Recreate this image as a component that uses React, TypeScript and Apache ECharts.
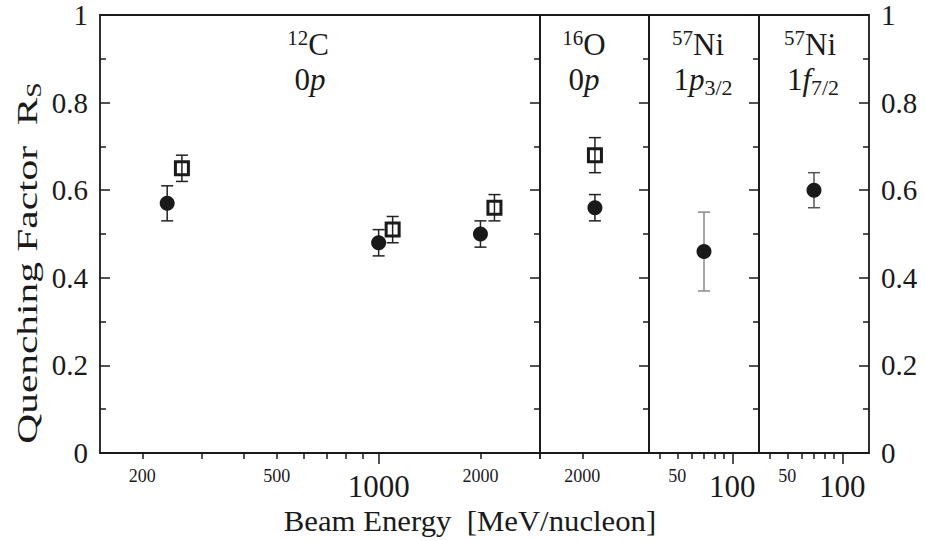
import React, { useEffect, useRef } from 'react';
import * as echarts from 'echarts';

// ---------- data ----------
// Panel 1: 12C 0p
const cEnergyFilled = [237, 1000, 2000];
const cRsFilled = [0.57, 0.48, 0.5];
const cLoFilled = [0.53, 0.45, 0.47];
const cHiFilled = [0.61, 0.51, 0.53];

const cEnergyOpen = [262, 1100, 2200];
const cRsOpen = [0.65, 0.51, 0.56];
const cLoOpen = [0.62, 0.48, 0.53];
const cHiOpen = [0.68, 0.54, 0.59];

// Panel 2: 16O 0p
const oEnergyFilled = [2180];
const oRsFilled = [0.56];
const oLoFilled = [0.53];
const oHiFilled = [0.59];

const oEnergyOpen = [2180];
const oRsOpen = [0.68];
const oLoOpen = [0.64];
const oHiOpen = [0.72];

// Panel 3: 57Ni 1p3/2
const niPEnergy = [70];
const niPRs = [0.46];
const niPLo = [0.37];
const niPHi = [0.55];

// Panel 4: 57Ni 1f7/2
const niFEnergy = [70];
const niFRs = [0.6];
const niFLo = [0.56];
const niFHi = [0.64];

// axis ticks / labels
const p1Range = [150, 3000];
const p1MinorTicks = [200, 300, 400, 500, 600, 700, 800, 900, 2000, 3000];
const p1MajorTicks = [1000];
const p1Labels = [200, 500, 1000, 2000];
const p2Range = [1500, 3150];
const p2MinorTicks = [1500, 2000];
const p2Labels = [2000];
const niRange = [35, 140];
const niMinorTicks = [40, 50, 60, 70, 80, 90];
const niMajorTicks = [100];
const niLabels = [50, 100];
const bigLabels = [1000, 100];

const yTickLabels = [0, 0.2, 0.4, 0.6, 0.8, 1];

const serif = 'Liberation Serif';
const ink = '#1a1a1a';

function pts(xs: number[], ys: number[]) {
  return xs.map((x, i) => [x, ys[i]]);
}
function errs(xs: number[], lo: number[], hi: number[]) {
  return xs.map((x, i) => [x, lo[i], hi[i]]);
}

export default function App() {
  const ref = useRef<HTMLDivElement>(null);

  useEffect(() => {
    if (!ref.current) return;
    const chart = echarts.init(ref.current, undefined, { renderer: 'svg' });

    const grids = [
      { left: 100, width: 440 },
      { left: 540, width: 109 },
      { left: 649, width: 110 },
      { left: 759, width: 110 },
    ].map((g) => ({
      ...g,
      top: 15,
      height: 438,
      show: true,
      borderColor: ink,
      borderWidth: 1.8,
      backgroundColor: 'transparent',
      containLabel: false,
      outerBoundsMode: 'none',
    }));

    const labelFmt = (v: number) => {
      const r = Math.round(v);
      return bigLabels.includes(r) ? `{b|${r}}` : `{s|${r}}`;
    };
    const labelRich = {
      s: { fontSize: 18, fontFamily: serif, color: ink },
      b: { fontSize: 31, fontFamily: serif, color: ink, padding: [4, 0, 0, 0] },
    };

    const mkX = (grid: number, range: number[], ticks: number[], labels: number[] | null, len: number) => ({
      type: 'log',
      logBase: 10,
      gridIndex: grid,
      position: 'bottom',
      min: range[0],
      max: range[1],
      axisLine: { show: false },
      splitLine: { show: false },
      axisTick: {
        show: true,
        inside: false,
        length: len,
        customValues: ticks,
        lineStyle: { color: ink, width: 1.5 },
      },
      axisLabel: labels
        ? {
            show: true,
            margin: 14,
            customValues: labels,
            formatter: labelFmt,
            rich: labelRich,
            fontFamily: serif,
            color: ink,
          }
        : { show: false },
    });

    const xAxis = [
      mkX(0, p1Range, p1MinorTicks, p1Labels, 6), // 0
      mkX(0, p1Range, p1MajorTicks, null, 11), // 1
      mkX(1, p2Range, p2MinorTicks, p2Labels, 6), // 2
      mkX(2, niRange, niMinorTicks, niLabels, 6), // 3
      mkX(2, niRange, niMajorTicks, null, 11), // 4
      mkX(3, niRange, niMinorTicks, niLabels, 6), // 5
      mkX(3, niRange, niMajorTicks, null, 11), // 6
    ];

    const mkY = (grid: number, pos: 'left' | 'right', showLabel: boolean) => ({
      type: 'value',
      gridIndex: grid,
      position: pos,
      min: 0,
      max: 1,
      interval: 0.2,
      axisLine: { show: false },
      splitLine: { show: false },
      axisTick: { show: true, inside: true, length: 10, lineStyle: { color: ink, width: 1.5 } },
      minorTick: { show: true, splitNumber: 2, length: 6, lineStyle: { color: ink, width: 1.5 } },
      axisLabel: {
        show: showLabel,
        margin: 12,
        fontSize: 29,
        fontFamily: serif,
        color: ink,
        formatter: (v: number) => {
          const hit = yTickLabels.find((t) => Math.abs(t - v) < 1e-6);
          return hit === undefined ? '' : String(hit);
        },
      },
    });

    const yAxis = [
      mkY(0, 'left', true), // 0
      mkY(0, 'right', false), // 1
      mkY(1, 'right', false), // 2
      mkY(2, 'right', false), // 3
      mkY(3, 'right', true), // 4
    ];

    const errSeries = (xi: number, yi: number, data: number[][], color: string) => ({
      type: 'custom',
      xAxisIndex: xi,
      yAxisIndex: yi,
      z: 1,
      encode: { x: 0, y: [1, 2] },
      data,
      renderItem: (_p: any, api: any) => {
        const x = api.value(0);
        const lo = api.coord([x, api.value(1)]);
        const hi = api.coord([x, api.value(2)]);
        const cap = 6;
        const style = { stroke: color, lineWidth: 1.5 };
        return {
          type: 'group',
          children: [
            { type: 'line', shape: { x1: lo[0], y1: lo[1], x2: hi[0], y2: hi[1] }, style },
            { type: 'line', shape: { x1: lo[0] - cap, y1: lo[1], x2: lo[0] + cap, y2: lo[1] }, style },
            { type: 'line', shape: { x1: hi[0] - cap, y1: hi[1], x2: hi[0] + cap, y2: hi[1] }, style },
          ],
        };
      },
    });

    const filled = (xi: number, yi: number, data: number[][]) => ({
      type: 'scatter',
      xAxisIndex: xi,
      yAxisIndex: yi,
      z: 3,
      symbol: 'circle',
      symbolSize: 15,
      itemStyle: { color: ink, opacity: 1 },
      data,
    });
    const open = (xi: number, yi: number, data: number[][]) => ({
      type: 'scatter',
      xAxisIndex: xi,
      yAxisIndex: yi,
      z: 2,
      symbol: 'rect',
      symbolSize: 13,
      itemStyle: { color: 'rgba(255,255,255,0)', borderColor: ink, borderWidth: 3, opacity: 1 },
      data,
    });

    const series = [
      errSeries(0, 0, errs(cEnergyFilled, cLoFilled, cHiFilled), '#222'),
      errSeries(0, 0, errs(cEnergyOpen, cLoOpen, cHiOpen), '#222'),
      open(0, 0, pts(cEnergyOpen, cRsOpen)),
      filled(0, 0, pts(cEnergyFilled, cRsFilled)),

      errSeries(2, 2, errs(oEnergyFilled, oLoFilled, oHiFilled), '#222'),
      errSeries(2, 2, errs(oEnergyOpen, oLoOpen, oHiOpen), '#222'),
      open(2, 2, pts(oEnergyOpen, oRsOpen)),
      filled(2, 2, pts(oEnergyFilled, oRsFilled)),

      errSeries(3, 3, errs(niPEnergy, niPLo, niPHi), '#8a8a8a'),
      filled(3, 3, pts(niPEnergy, niPRs)),

      errSeries(5, 4, errs(niFEnergy, niFLo, niFHi), '#555'),
      filled(5, 4, pts(niFEnergy, niFRs)),
    ];

    const rich = {
      m: { fontSize: 31, fontFamily: serif, fill: ink },
      it: { fontSize: 31, fontFamily: serif, fontStyle: 'italic', fill: ink },
      sup: { fontSize: 21, fontFamily: serif, fill: ink, padding: [0, 0, 12, 0] },
      sub: { fontSize: 22, fontFamily: serif, fill: ink, padding: [16, 0, 0, 0] },
    };
    const panelText = (x: number, y: number, text: string) => ({
      type: 'text',
      x,
      y,
      style: { text, rich, fontFamily: serif, fontSize: 31, fill: ink, align: 'center', verticalAlign: 'middle' },
    });

    const graphic = [
      panelText(308, 44, '{sup|12}{m|C}'),
      panelText(310, 79, '{m|0}{it|p}'),
      panelText(584, 44, '{sup|16}{m|O}'),
      panelText(584, 79, '{m|0}{it|p}'),
      panelText(698, 44, '{sup|57}{m|Ni}'),
      panelText(703, 79, '{m|1}{it|p}{sub|3/2}'),
      panelText(810, 44, '{sup|57}{m|Ni}'),
      panelText(813, 79, '{m|1}{it|f}{sub|7/2}'),
      {
        type: 'text',
        x: 470,
        y: 521,
        scaleX: 1.06,
        style: {
          text: 'Beam Energy  [MeV/nucleon]',
          fontSize: 29,
          fontFamily: serif,
          fill: ink,
          align: 'center',
          verticalAlign: 'middle',
        },
      },
      {
        type: 'text',
        x: 27,
        y: 263,
        rotation: Math.PI / 2,
        scaleX: 1.38,
        style: {
          text: 'Quenching Factor  R{s|S}',
          rich: { s: { fontSize: 20, fontFamily: serif, fill: ink, padding: [14, 0, 0, 0] } },
          fontSize: 30,
          fontFamily: serif,
          fill: ink,
          align: 'center',
          verticalAlign: 'middle',
        },
      },
    ];

    chart.setOption({
      animation: false,
      backgroundColor: '#ffffff',
      textStyle: { fontFamily: serif, color: ink },
      grid: grids,
      xAxis,
      yAxis,
      series,
      graphic,
    } as any);

    return () => chart.dispose();
  }, []);

  return <div ref={ref} style={{ width: 925, height: 541, position: 'absolute', left: 0, top: 0 }} />;
}
